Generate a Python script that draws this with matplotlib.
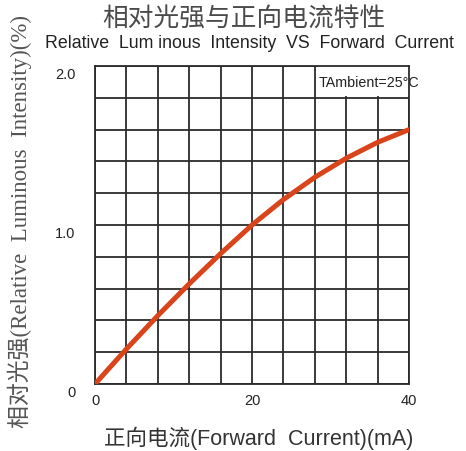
import matplotlib
matplotlib.use("Agg")
import matplotlib.pyplot as plt
from matplotlib.patches import Rectangle

# Data
current_ma = [0, 4, 8, 12, 16, 20, 24, 28, 32, 36, 40]
rel_intensity = [0.0, 0.22, 0.43, 0.63, 0.82, 1.0, 1.16, 1.30, 1.42, 1.52, 1.60]
x_ticks = [0, 20, 40]
x_tick_labels = ["0", "20", "40"]
y_ticks = [0, 1.0, 2.0]
y_tick_labels = ["0", "1.0", "2.0"]

title_cn = "相对光强与正向电流特性"
title_en = "Relative  Lum inous  Intensity  VS  Forward  Current"
xlabel = "正向电流(Forward  Current)(mA)"
ylabel = "相对光强(Relative  Luminous  Intensity)(%)"
note = "TAmbient=25°C"

W, H = 466, 452
fig = plt.figure(figsize=(W / 100, H / 100), dpi=100)
ax = fig.add_axes([95 / W, 67 / H, 314 / W, 318 / H])

grid_color = "#2b2b2b"
ax.set_xlim(0, 40)
ax.set_ylim(0, 2.0)
ax.set_xticks([i * 4 for i in range(11)])
ax.set_yticks([i * 0.2 for i in range(11)])
ax.grid(True, color=grid_color, linewidth=1.3)
ax.set_axisbelow(True)
ax.set_xticklabels([])
ax.set_yticklabels([])
ax.tick_params(length=0)
for s in ax.spines.values():
    s.set_color(grid_color)
    s.set_linewidth(1.3)

sans = ["Liberation Sans", "Noto Sans CJK SC"]
for v, lab in zip(x_ticks, x_tick_labels):
    ax.text(v, -0.1, lab, ha="center", va="center", fontsize=10.5,
            family=sans, color="#222222")
for v, lab in zip(y_ticks, y_tick_labels):
    ax.text(-2.5, v - 0.05, lab, ha="right", va="center", fontsize=10.5,
            family=sans, color="#222222")

ax.plot(current_ma, rel_intensity, color="#D9441A", linewidth=3.6,
        solid_capstyle="round", solid_joinstyle="round", zorder=4)

# White box behind the note
ax.add_patch(Rectangle((28.35, 1.812), 11.65, 0.188, facecolor="white",
                       edgecolor="none", zorder=1))
ax.text(28.5, 1.9, note, ha="left", va="center", fontsize=10.3,
        family=sans, color="#222222", zorder=2)

fig.text(244 / W, 1 - 20 / H, title_cn, ha="center", va="center",
         fontsize=18.5, family=["Noto Sans CJK SC"], color="#4a4a4a",
         fontweight="light")
fig.text(249 / W, 1 - 44 / H, title_en, ha="center", va="center",
         fontsize=12.8, family=sans, color="#222222")
fig.text(259 / W, 1 - 438 / H, xlabel, ha="center", va="center",
         fontsize=15.5, family=sans, color="#333333")
fig.text(20 / W, 1 - 222 / H, ylabel, ha="center", va="center",
         rotation=90, fontsize=16.5, family=["Liberation Serif", "Noto Sans CJK SC"],
         color="#555555")

fig.savefig("out.png", dpi=100)
